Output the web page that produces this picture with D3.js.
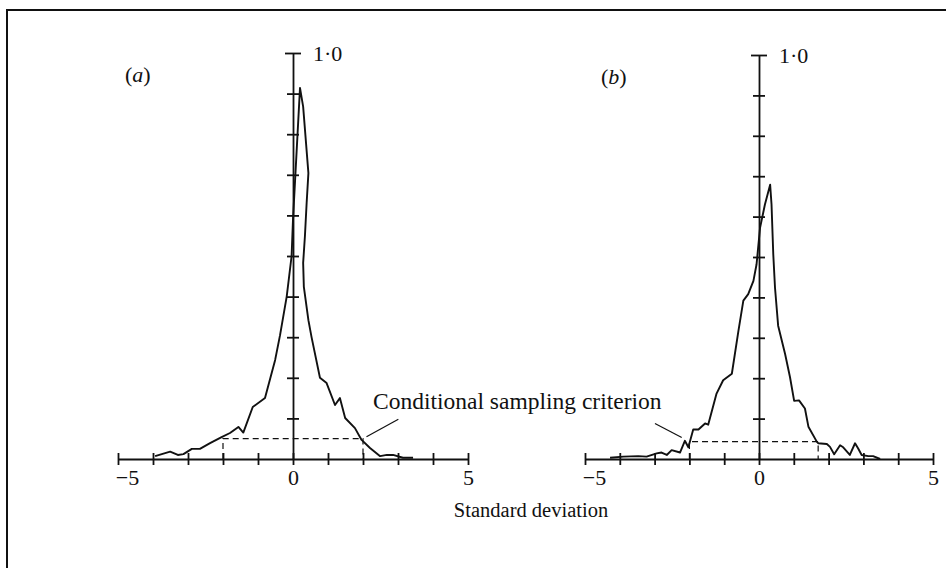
<!DOCTYPE html>
<html>
<head>
<meta charset="utf-8">
<script src="https://cdn.jsdelivr.net/npm/d3@7"></script>
<style>
  body { margin: 0; background: #fff; }
  text { font-family: "Liberation Serif", "DejaVu Serif", serif; fill: #111; }
</style>
</head>
<body>
<script>
const width = 946;
const height = 568;

// panel (a)
const devA = [-3.94, -3.51, -3.29, -3.13, -2.89, -2.66, -2.37, -2.04, -1.8, -1.56,
  -1.42, -1.15, -0.8, -0.51, -0.37, -0.18, -0.04, 0.0, 0.2, 0.29,
  0.44, 0.39, 0.34, 0.29, 0.31, 0.44, 0.53, 0.77, 0.96, 1.2,
  1.34, 1.49, 1.77, 1.96, 2.2, 2.49, 2.68, 2.86, 3.14, 3.43];
const probA = [0.007, 0.018, 0.01, 0.012, 0.025, 0.025, 0.039, 0.054, 0.064, 0.079,
  0.065, 0.128, 0.15, 0.244, 0.305, 0.4, 0.5, 0.59, 0.914, 0.868,
  0.704, 0.631, 0.548, 0.483, 0.424, 0.342, 0.3, 0.2, 0.187, 0.133,
  0.15, 0.101, 0.076, 0.047, 0.027, 0.007, 0.01, 0.01, 0.003, 0.003];

// panel (b)
const devB = [-4.28, -3.9, -3.47, -3.23, -2.94, -2.8, -2.65, -2.51, -2.27, -2.13,
  -2.03, -1.89, -1.74, -1.55, -1.46, -1.22, -1.03, -0.78, -0.59, -0.45,
  -0.31, -0.16, -0.07, 0.03, 0.17, 0.32, 0.36, 0.41, 0.46, 0.55,
  0.75, 0.89, 1.01, 1.15, 1.32, 1.42, 1.66, 1.7, 1.95, 2.04,
  2.16, 2.33, 2.42, 2.61, 2.76, 2.85, 2.95, 3.14, 3.28, 3.48];
const probB = [0.003, 0.006, 0.007, 0.006, 0.014, 0.016, 0.01, 0.022, 0.016, 0.045,
  0.029, 0.073, 0.073, 0.088, 0.085, 0.162, 0.195, 0.211, 0.318, 0.392,
  0.408, 0.441, 0.482, 0.572, 0.63, 0.679, 0.63, 0.507, 0.424, 0.33,
  0.26, 0.203, 0.144, 0.145, 0.125, 0.08, 0.043, 0.039, 0.037, 0.03,
  0.012, 0.034, 0.029, 0.01, 0.039, 0.026, 0.01, 0.007, 0.007, 0.0];

// conditional sampling criterion: [low, high, level]
const critA = [-2, 2, 0.05];
const critB = [-2, 1.7, 0.043];

// leader line ends for the annotation [x, y] in data units
const leaderA = [[3.01, 0.098], [2.1, 0.055]];
const leaderB = [[-2.99, 0.088], [-2.22, 0.053]];

const xTicks = d3.range(-5, 6);
const xLabels = [-5, 0, 5];
const yTicks = d3.range(1, 11).map((d) => d / 10);

let svg = d3
  .select("body")
  .append("svg")
  .attr("width", width)
  .attr("height", height);

// frame
svg
  .append("rect")
  .attr("x", 7)
  .attr("y", 10)
  .attr("width", 960)
  .attr("height", 600)
  .attr("fill", "none")
  .attr("stroke", "#111")
  .attr("stroke-width", 2);

function drawPanel(opts) {
  let x = d3.scaleLinear().domain([-5, 5]).range(opts.xRange);
  let y = d3.scaleLinear().domain([0, 1]).range(opts.yRange);
  let g = svg.append("g");

  let xAxis = d3
    .axisBottom(x)
    .tickValues(xTicks)
    .tickSizeInner(6)
    .tickSizeOuter(0)
    .tickFormat((d) => (xLabels.includes(d) ? (d < 0 ? "\u2212" + Math.abs(d) : d) : ""));

  let xg = g
    .append("g")
    .attr("transform", `translate(0, ${y(0)})`)
    .call(xAxis);
  xg.selectAll(".tick line").attr("y1", -6).attr("y2", 6);
  xg.selectAll(".tick text")
    .attr("y", 10)
    .attr("dx", (d) => (d < 0 ? 9 : 0))
    .style("font-size", "22px");

  let yAxis = d3
    .axisLeft(y)
    .tickValues(yTicks)
    .tickSizeInner(6)
    .tickSizeOuter(0)
    .tickFormat("");

  let yg = g
    .append("g")
    .attr("transform", `translate(${x(0)}, 0)`)
    .call(yAxis);
  yg.selectAll(".tick line")
    .attr("x1", (d) => (d === 1 ? -8 : -6))
    .attr("x2", (d) => (d === 1 ? 8 : 6));

  g.selectAll(".domain, .tick line")
    .attr("stroke", "#111")
    .attr("stroke-width", 1.8);

  g.append("text")
    .attr("x", x(0) + 20)
    .attr("y", y(1) + 8)
    .style("font-size", "22px")
    .text("1\u00b70");

  let lab = g
    .append("text")
    .attr("x", opts.labelPos[0])
    .attr("y", opts.labelPos[1])
    .style("font-size", "22px");
  lab.append("tspan").text("(");
  lab.append("tspan").style("font-style", "italic").text(opts.label);
  lab.append("tspan").text(")");

  // criterion dashed box
  let c = opts.crit;
  g.append("path")
    .attr("d", `M${x(c[0])},${y(0)}V${y(c[2])}H${x(c[1])}V${y(0)}`)
    .attr("fill", "none")
    .attr("stroke", "#111")
    .attr("stroke-width", 1.2)
    .attr("stroke-dasharray", "6,4");

  let line = d3
    .line()
    .x((d) => x(d[0]))
    .y((d) => y(d[1]));

  g.append("path")
    .datum(d3.zip(opts.dev, opts.prob))
    .attr("d", line)
    .attr("fill", "none")
    .attr("stroke", "#111")
    .attr("stroke-width", 1.9)
    .attr("stroke-linejoin", "round");

  g.append("path")
    .datum(opts.leader)
    .attr("d", line)
    .attr("fill", "none")
    .attr("stroke", "#111")
    .attr("stroke-width", 1.2);
}

drawPanel({
  xRange: [118, 468],
  yRange: [459, 53],
  dev: devA,
  prob: probA,
  crit: critA,
  leader: leaderA,
  label: "a",
  labelPos: [125, 82],
});

drawPanel({
  xRange: [585, 933],
  yRange: [459, 55],
  dev: devB,
  prob: probB,
  crit: critB,
  leader: leaderB,
  label: "b",
  labelPos: [601, 84],
});

svg
  .append("text")
  .attr("x", 373)
  .attr("y", 409)
  .style("font-size", "23.5px")
  .text("Conditional sampling criterion");

svg
  .append("text")
  .attr("x", 531)
  .attr("y", 517)
  .attr("text-anchor", "middle")
  .style("font-size", "20.5px")
  .text("Standard deviation");
</script>
</body>
</html>
